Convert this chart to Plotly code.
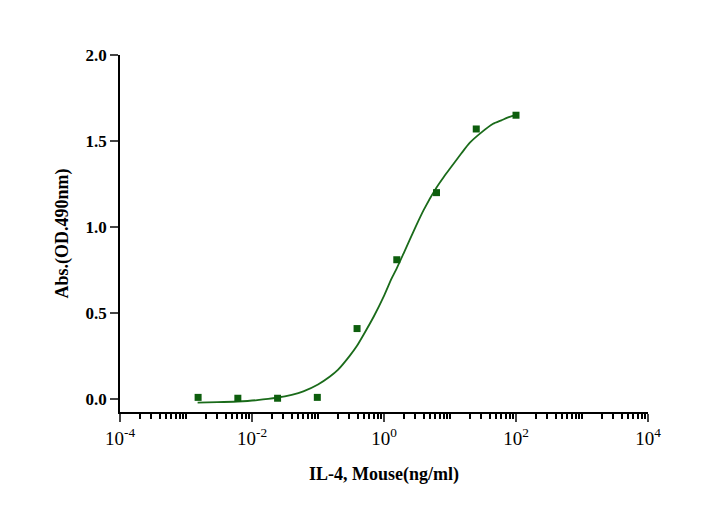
import plotly.graph_objects as go

conc = [100, 25, 6.25, 1.5625, 0.390625, 0.09765625, 0.0244140625, 0.006103515625, 0.00152587890625]
od = [1.65, 1.57, 1.20, 0.81, 0.41, 0.01, 0.005, 0.005, 0.01]

curve_x = [0.0015, 0.003, 0.006, 0.012, 0.024, 0.04, 0.06, 0.1, 0.15, 0.2, 0.3, 0.39, 0.5, 0.7, 1.0, 1.3, 1.56,
           2.0, 3.0, 4.0, 6.25, 8.0, 10, 15, 20, 30, 45, 60, 80, 100]
curve_y = [-0.02, -0.018, -0.014, -0.006, 0.008, 0.025, 0.045, 0.085, 0.13, 0.17, 0.25, 0.31, 0.38, 0.48, 0.60, 0.70, 0.76,
           0.85, 1.00, 1.10, 1.23, 1.29, 1.34, 1.43, 1.49, 1.55, 1.60, 1.62, 1.64, 1.65]

tickvals = [1e-4, 1e-2, 1, 1e2, 1e4]
ticktext = ["10<sup>-4</sup>", "10<sup>-2</sup>", "10<sup>0</sup>", "10<sup>2</sup>", "10<sup>4</sup>"]

green = "#1a6b1a"
fig = go.Figure()
fig.add_trace(go.Scatter(x=curve_x, y=curve_y, mode="lines", line=dict(color=green, width=1.8, shape="spline", smoothing=0.6), hoverinfo="skip"))
fig.add_trace(go.Scatter(x=conc, y=od, mode="markers", marker=dict(symbol="square", size=7, color="#0d5e0d")))

fig.update_layout(
    width=714, height=508, margin=dict(l=112, r=74, t=47, b=104, autoexpand=False),
    plot_bgcolor="white", paper_bgcolor="white", showlegend=False,
    font=dict(family="Liberation Serif", size=17, color="black"),
    xaxis=dict(type="log", range=[-4, 4], tickvals=tickvals, ticktext=ticktext, automargin=False,
               showline=True, linecolor="black", linewidth=1.5, ticks="outside", ticklen=8, tickwidth=1.5,
               minor=dict(ticks="outside", ticklen=5, tickcolor="black", dtick="D1"),
               showgrid=False, zeroline=False,
               title=dict(text="<b>IL-4, Mouse(ng/ml)</b>", font=dict(family="Liberation Serif", size=18), standoff=20),
               tickfont=dict(family="Liberation Serif", size=19)),
    yaxis=dict(range=[-0.075, 2.0], tickvals=[0, 0.5, 1.0, 1.5, 2.0], automargin=False,
               ticktext=["<b>0.0</b>", "<b>0.5</b>", "<b>1.0</b>", "<b>1.5</b>", "<b>2.0</b>"],
               showline=True, linecolor="black", linewidth=1.5, ticks="outside", ticklen=8, tickwidth=1.5,
               showgrid=False, zeroline=False,
               title=dict(text="<b>Abs.(OD.490nm)</b>", font=dict(family="Liberation Serif", size=18), standoff=12)),
)
fig.write_html("out.html")
